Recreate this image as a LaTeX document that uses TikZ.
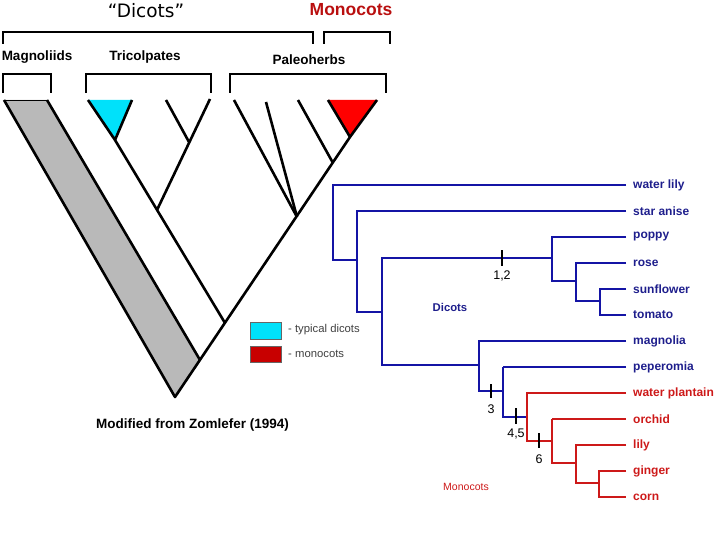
\documentclass[tikz,border=0pt]{standalone}
\usepackage{fontspec}
\setmainfont{Liberation Sans}
\newfontfamily\wideff{DejaVu Sans}
\definecolor{tblue}{RGB}{20,20,165}
\definecolor{lblue}{RGB}{30,30,140}
\definecolor{tred}{RGB}{205,25,25}
\definecolor{mred}{RGB}{185,15,15}
\definecolor{tcyan}{RGB}{0,225,250}
\definecolor{lgred}{RGB}{200,0,0}
\definecolor{hatch}{RGB}{185,185,185}
\tikzset{
  brk/.style={line width=1.4pt, black},
  br/.style={line width=2.6pt, black, line join=round},
  bl/.style={line width=2pt, tblue},
  rd/.style={line width=2pt, tred},
  thinb/.style={line width=1.1pt, tblue},
  thinr/.style={line width=1.1pt, tred},
  tick/.style={line width=2.6pt, black},
  leaf/.style={anchor=west, font=\fontsize{12}{13}\selectfont\bfseries, inner sep=0pt},
  ticklab/.style={font=\fontsize{12.5}{13}\selectfont, inner sep=0pt},
  grp/.style={font=\fontsize{13.5}{15}\selectfont\bfseries, inner sep=0pt},
}
\begin{document}
\begin{tikzpicture}[x=1pt,y=-1pt]
\useasboundingbox (0,0) rectangle (720,540);
% titles
\node[font=\wideff\fontsize{18.5}{20}\selectfont, inner sep=0pt] (tdic) at (146,11) {“Dicots”};
\node[font=\fontsize{17.5}{19}\selectfont\bfseries, text=mred, inner sep=0pt] (tmon) at (351,10) {Monocots};
% brackets
\draw[brk] (3,44) -- (3,32) -- (313,32) -- (313,44);
\draw[brk] (324,44) -- (324,32) -- (390,32) -- (390,44);
\draw[brk] (3,93) -- (3,74) -- (51,74) -- (51,93);
\draw[brk] (86,93) -- (86,74) -- (211,74) -- (211,93);
\draw[brk] (230,93) -- (230,74) -- (386,74) -- (386,93);
\node[grp] (gmag) at (37,57) {Magnoliids};
\node[grp] (gtri) at (145,57) {Tricolpates};
\node[grp] (gpal) at (309,60) {Paleoherbs};
% left tree
\coordinate (apex) at (175,397);
\coordinate (hl) at (4,100);
\coordinate (hr) at (47,100);
\coordinate (hj) at (200,360);
\coordinate (tj) at (225,323);
\coordinate (pj) at (297,217);
\coordinate (mj) at (333,163);
\coordinate (ca) at (115,140);
\coordinate (cj) at (157,210);
\coordinate (cj2) at (189,142);
\coordinate (ra) at (350,137);
\fill[hatch] (hl) -- (hr) -- (hj) -- (apex) -- cycle;
\draw[line width=0.8pt] (hl) -- (hr);
\draw[br] (hl) -- (apex) -- (ra);
\draw[br] (hr) -- (hj);
\draw[br] (ca) -- (tj);
\draw[br] (cj) -- (210,99);
\draw[br] (166,100) -- (cj2);
\draw[br] (pj) -- (234,100);
\draw[br] (pj) -- (266,102);
\draw[br] (298,100) -- (mj);
\fill[tcyan] (88,100) -- (132,100) -- (ca) -- cycle;
\draw[br] (88,100) -- (ca) -- (132,100);
\fill[red] (328,100) -- (377,100) -- (ra) -- cycle;
\draw[br] (328,100) -- (ra) -- (377,100);
% legend
\node[draw=black!60, fill=tcyan, minimum width=31pt, minimum height=17pt, inner sep=0pt, line width=0.4pt] (lc) at (265.5,330.5) {};
\node[draw=black!60, fill=lgred, minimum width=31pt, minimum height=16pt, inner sep=0pt, line width=0.4pt] (lr) at (265.5,354) {};
\node[anchor=west, inner sep=0pt, font=\fontsize{11.3}{12}\selectfont, text=black!75] (ltc) at (288,330) {- typical dicots};
\node[anchor=west, inner sep=0pt, font=\fontsize{11.3}{12}\selectfont, text=black!75] (ltr) at (288,354) {- monocots};
\node[anchor=west, inner sep=0pt, font=\fontsize{13.5}{15}\selectfont\bfseries] (mod) at (96,425) {Modified from Zomlefer (1994)};
% right tree leaves
\foreach \n/\y in {wl/185,sa/211,po/237,ro/263,su/289,to/315,ma/341,pe/367,wp/393,or/419,li/445,gi/471,co/497}
  \coordinate (\n) at (626,\y);
\foreach \n/\t in {wl/water lily,sa/star anise,po/poppy,ro/rose,su/sunflower,to/tomato,ma/magnolia,pe/peperomia}
  \node[leaf, text=lblue] (L\n) at ([xshift=7pt]\n) {\t};
\foreach \n/\t in {wp/water plantain,or/orchid,li/lily,gi/ginger,co/corn}
  \node[leaf, text=tred] (L\n) at ([xshift=7pt]\n) {\t};
% blue part
\draw[bl, line width=1.5pt] (wl) -- (333,185) -- (333,260) -- (357,260);
\draw[bl] (sa) -- (357,211) -- (357,312) -- (382,312);
\draw[bl] (552,258) -- (382,258) -- (382,365) -- (479,365);
\draw[bl] (po) -- (552,237) -- (552,281) -- (576,281);
\draw[bl] (ro) -- (576,263) -- (576,301) -- (600,301);
\draw[bl] (su) -- (600,289) -- (600,315) -- (to);
\draw[bl] (ma) -- (479,341) -- (479,391) -- (503,391);
\draw[bl] (pe) -- (503,367);
\draw[thinb] (503,367) -- (503,417) -- (527,417);
% red part
\draw[rd] (wp) -- (527,393) -- (527,441) -- (552,441);
\draw[rd] (or) -- (552,419);
\draw[thinr] (552,419) -- (552,463) -- (576,463);
\draw[rd] (li) -- (576,445) -- (576,483) -- (599,483);
\draw[rd] (gi) -- (599,471) -- (599,497) -- (co);
% ticks
\draw[tick] (502,250) -- (502,266);
\node[ticklab] (t12) at (502,276) {1,2};
\draw[tick] (491,384) -- (491,398);
\node[ticklab] (t3) at (491,409) {3};
\draw[tick] (516,408) -- (516,424);
\node[ticklab] (t45) at (516,434) {4,5};
\draw[tick] (539,433) -- (539,448);
\node[ticklab] (t6) at (539,459) {6};
% group labels
\node[inner sep=0pt, font=\fontsize{11.3}{12}\selectfont\bfseries, text=lblue] (ldic) at (450,307) {Dicots};
\node[inner sep=0pt, font=\fontsize{10.5}{12}\selectfont, text=tred] (lmon) at (466,487) {Monocots};
\end{tikzpicture}
\end{document}
